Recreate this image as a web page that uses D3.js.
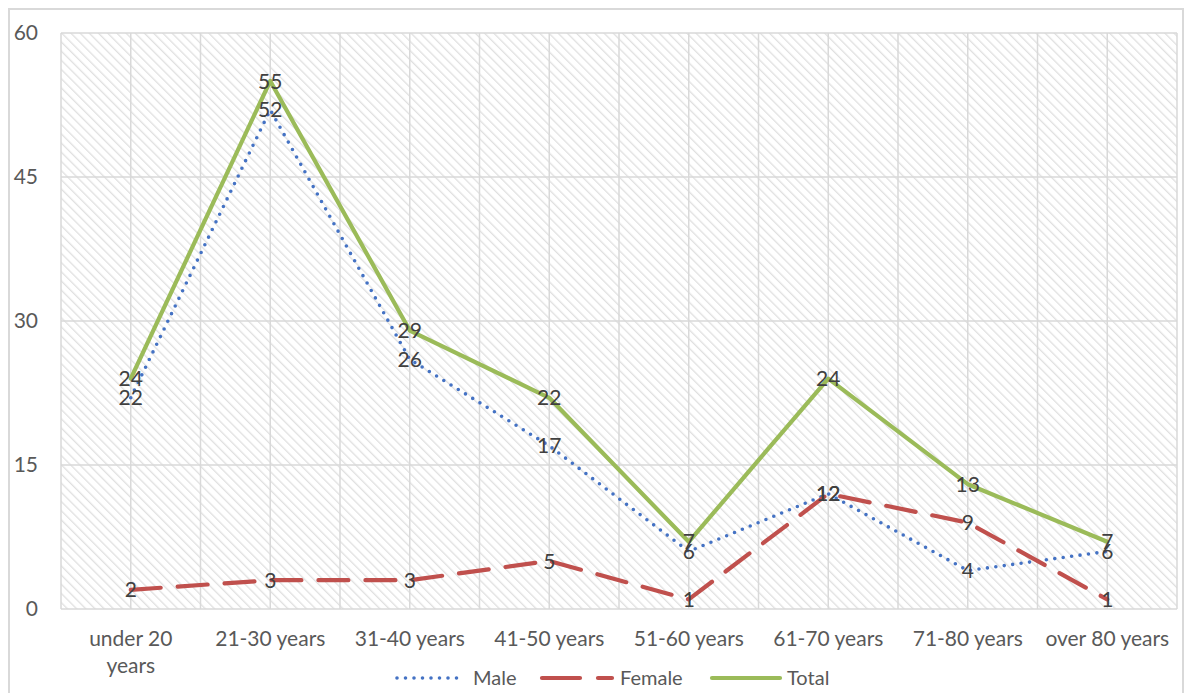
<!DOCTYPE html>
<html>
<head>
<meta charset="utf-8">
<script src="https://cdn.jsdelivr.net/npm/d3@7"></script>
<style>
  html, body { margin: 0; padding: 0; background: #fff; }
  svg { display: block; font-family: Lato, "Open Sans", sans-serif; }
</style>
</head>
<body>
<svg id="chart" width="1193" height="693"></svg>
<script>
// Age groups and patient counts
const categories = ["under 20 years", "21-30 years", "31-40 years", "41-50 years",
                    "51-60 years", "61-70 years", "71-80 years", "over 80 years"];
const male   = [22, 52, 26, 17, 6, 12, 4, 6];
const female = [2, 3, 3, 5, 1, 12, 9, 1];
const total  = [24, 55, 29, 22, 7, 24, 13, 7];
const yTicks = [0, 15, 30, 45, 60];

const seriesList = [
  { name: "Male",   values: male,   color: "#4472C4", width: 3.6, dash: "0,8.5", cap: "round" },
  { name: "Female", values: female, color: "#C0504D", width: 4.2, dash: "30,17", cap: "round" },
  { name: "Total",  values: total,  color: "#9BBB59", width: 4.2, dash: null,    cap: "round" }
];

const svg = d3.select("#chart");
const plot = { left: 61, top: 33, right: 1177, bottom: 609 };

// Outer frame
svg.append("rect")
  .attr("x", 9).attr("y", 9).attr("width", 1174).attr("height", 690)
  .attr("fill", "#fff").attr("stroke", "#d9d9d9").attr("stroke-width", 2);

// Diagonal hatch fill for the plot area
const defs = svg.append("defs");
const pat = defs.append("pattern")
  .attr("id", "hatch").attr("patternUnits", "userSpaceOnUse")
  .attr("width", 6.5).attr("height", 6.5)
  .attr("patternTransform", "rotate(-45)");
pat.append("rect").attr("width", 6.5).attr("height", 6.5).attr("fill", "#fff");
pat.append("line").attr("x1", 0).attr("y1", 0).attr("x2", 0).attr("y2", 6.5)
  .attr("stroke", "#e0e0e0").attr("stroke-width", 2.6);

const x = d3.scaleBand().domain(categories).range([plot.left, plot.right]).padding(0);
const y = d3.scaleLinear().domain([0, 60]).range([plot.bottom, plot.top]);
const cx = c => x(c) + x.bandwidth() / 2;

svg.append("rect")
  .attr("x", plot.left).attr("y", plot.top)
  .attr("width", plot.right - plot.left).attr("height", plot.bottom - plot.top)
  .attr("fill", "url(#hatch)");

// Vertical gridlines at category boundaries and centres
const vLines = [];
categories.forEach(c => { vLines.push(x(c)); vLines.push(cx(c)); });
vLines.push(plot.right);
svg.append("g").selectAll("line").data(vLines).join("line")
  .attr("x1", d => d).attr("x2", d => d)
  .attr("y1", plot.top).attr("y2", plot.bottom)
  .attr("stroke", "#d9d9d9").attr("stroke-width", 1.5);

// Horizontal gridlines
svg.append("g").selectAll("line").data(yTicks).join("line")
  .attr("x1", plot.left).attr("x2", plot.right)
  .attr("y1", d => y(d)).attr("y2", d => y(d))
  .attr("stroke", "#d9d9d9").attr("stroke-width", 1.5);

// Y axis labels
const yAxis = d3.axisLeft(y).tickValues(yTicks).tickSize(0).tickPadding(0);
const yg = svg.append("g").attr("transform", `translate(38,0)`).call(yAxis);
yg.select(".domain").remove();
yg.selectAll("text").attr("fill", "#595959").style("font-size", "21px")
  .style("font-family", "Lato, sans-serif");

// X axis labels (wrapped where needed)
const xAxis = d3.axisBottom(x).tickSize(0).tickFormat("");
const xg = svg.append("g").attr("transform", `translate(0,${plot.bottom})`).call(xAxis);
xg.select(".domain").remove();
const xLabelLines = c => c === "under 20 years" ? ["under 20", "years"] : [c];
xg.selectAll(".tick").each(function(c) {
  const t = d3.select(this).append("text")
    .attr("text-anchor", "middle").attr("fill", "#595959")
    .style("font-size", "21px").style("font-family", "Lato, sans-serif");
  xLabelLines(c).forEach((ln, i) => {
    t.append("tspan").attr("x", 0).attr("y", 37 + i * 27).text(ln);
  });
});

// Series lines
const line = d3.line().x((d, i) => cx(categories[i])).y(d => y(d));
seriesList.forEach(s => {
  svg.append("path").datum(s.values)
    .attr("d", line).attr("fill", "none")
    .attr("stroke", s.color).attr("stroke-width", s.width)
    .attr("stroke-linecap", s.cap).attr("stroke-linejoin", "round")
    .attr("stroke-dasharray", s.dash);
});

// Value labels centred on each point
seriesList.forEach(s => {
  svg.append("g").selectAll("text").data(s.values).join("text")
    .attr("x", (d, i) => cx(categories[i]))
    .attr("y", d => y(d))
    .attr("dy", "0.36em")
    .attr("text-anchor", "middle")
    .attr("fill", "#404040")
    .style("font-size", "21px")
    .text(d => d);
});

// Legend
const legendY = 678;
const legend = svg.append("g");
const legendItems = [
  { s: seriesList[0], x1: 397, x2: 461, tx: 473 },
  { s: seriesList[1], x1: 542, x2: 612, tx: 620 },
  { s: seriesList[2], x1: 712, x2: 780, tx: 787 }
];
legendItems.forEach(it => {
  legend.append("line")
    .attr("x1", it.x1).attr("x2", it.x2).attr("y1", legendY).attr("y2", legendY)
    .attr("stroke", it.s.color).attr("stroke-width", it.s.width)
    .attr("stroke-linecap", it.s.cap)
    .attr("stroke-dasharray", it.s.name === "Female" ? "38,18" : it.s.dash);
  legend.append("text")
    .attr("x", it.tx).attr("y", legendY).attr("dy", "0.36em")
    .attr("fill", "#595959").style("font-size", "20px")
    .text(it.s.name);
});
</script>
</body>
</html>
